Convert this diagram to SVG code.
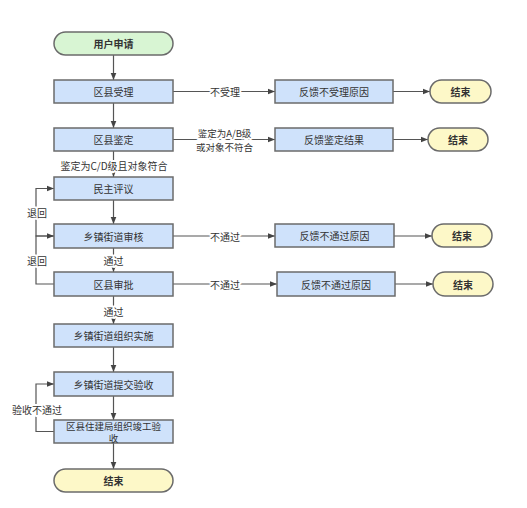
<svg xmlns="http://www.w3.org/2000/svg" width="527" height="508" viewBox="0 0 527 508">
<defs>
<marker id="arr" viewBox="0 0 10 10" refX="10" refY="5" markerWidth="7" markerHeight="7" markerUnits="userSpaceOnUse" orient="auto">
<path d="M0,1 L10,5 L0,9 z" fill="#444"/>
</marker>
<style>
.box{fill:#cfe2fb;stroke:#6b6b6b;stroke-width:1.5}
.start{fill:#d8f5d3;stroke:#6b6b6b;stroke-width:1.5}
.end{fill:#fdf8c8;stroke:#6b6b6b;stroke-width:1.5}
text{font-family:"Noto Sans CJK SC","Liberation Sans",sans-serif;font-size:10px;fill:#333;text-anchor:middle;dominant-baseline:central}
.b{font-weight:bold}
.sm{font-size:9.5px}
.lbl{stroke:#fff;stroke-width:4px;paint-order:stroke;stroke-linejoin:round}
.c{fill:none;stroke:#555;stroke-width:1.2}
</style>
</defs>
<rect width="527" height="508" fill="#fff"/>
<g id="connectors">
<path class="c" d="M113.5,55 V80" marker-end="url(#arr)"/>
<path class="c" d="M113.5,103 V128" marker-end="url(#arr)"/>
<path class="c" d="M113.5,151 V177" marker-end="url(#arr)"/>
<path class="c" d="M113.5,200 V224" marker-end="url(#arr)"/>
<path class="c" d="M113.5,248 V272" marker-end="url(#arr)"/>
<path class="c" d="M113.5,296 V324" marker-end="url(#arr)"/>
<path class="c" d="M113.5,347 V372" marker-end="url(#arr)"/>
<path class="c" d="M113.5,396 V420" marker-end="url(#arr)"/>
<path class="c" d="M113.5,443 V469" marker-end="url(#arr)"/>
<path class="c" d="M173,91.5 H275" marker-end="url(#arr)"/>
<path class="c" d="M393,91.5 H430" marker-end="url(#arr)"/>
<path class="c" d="M173,139.5 H275" marker-end="url(#arr)"/>
<path class="c" d="M393,139.5 H428" marker-end="url(#arr)"/>
<path class="c" d="M173,236 H275" marker-end="url(#arr)"/>
<path class="c" d="M394,236 H432" marker-end="url(#arr)"/>
<path class="c" d="M173,284 H277" marker-end="url(#arr)"/>
<path class="c" d="M395,284 H433" marker-end="url(#arr)"/>
<path class="c" d="M54,236 H36 V188.5 H54" marker-end="url(#arr)"/>
<path class="c" d="M54,284 H36 V236 H54" marker-end="url(#arr)"/>
<path class="c" d="M54,431.5 H36 V384 H54" marker-end="url(#arr)"/>
<text class="lbl" x="225" y="91.5">不受理</text>
<text class="lbl sm" x="224.5" y="133">鉴定为A/B级</text>
<text class="lbl sm" x="224.5" y="146.5">或对象不符合</text>
<text class="lbl" x="114" y="165.5">鉴定为C/D级且对象符合</text>
<text class="lbl" x="225" y="236">不通过</text>
<text class="lbl" x="225" y="284">不通过</text>
<text class="lbl" x="113.5" y="260">通过</text>
<text class="lbl" x="113.5" y="311">通过</text>
<text class="lbl" x="37" y="212.5">退回</text>
<text class="lbl" x="37" y="260">退回</text>
<text class="lbl" x="37" y="409">验收不通过</text>
</g>
<g id="n_start"><rect class="start" x="54" y="32" width="119" height="23" rx="11.5"/><text class="b" x="113.5" y="43.5">用户申请</text></g>
<g id="n_accept"><rect class="box" x="54" y="80" width="119" height="23"/><text x="113.5" y="91.5">区县受理</text></g>
<g id="n_identify"><rect class="box" x="54" y="128" width="119" height="23"/><text x="113.5" y="139.5">区县鉴定</text></g>
<g id="n_review"><rect class="box" x="54" y="177" width="119" height="23"/><text x="113.5" y="188.5">民主评议</text></g>
<g id="n_town"><rect class="box" x="54" y="224" width="119" height="24"/><text x="113.5" y="236">乡镇街道审核</text></g>
<g id="n_approve"><rect class="box" x="54" y="272" width="119" height="24"/><text x="113.5" y="284">区县审批</text></g>
<g id="n_impl"><rect class="box" x="54" y="324" width="119" height="23"/><text x="113.5" y="335.5">乡镇街道组织实施</text></g>
<g id="n_submit"><rect class="box" x="54" y="372" width="119" height="24"/><text x="113.5" y="384">乡镇街道提交验收</text></g>
<g id="n_final"><rect class="box" x="54" y="420" width="119" height="23"/><text class="sm" x="113.5" y="425.5">区县住建局组织竣工验</text><text class="sm" x="113.5" y="438">收</text></g>
<g id="n_end_main"><rect class="end" x="54" y="469" width="119" height="23" rx="11.5"/><text class="b" x="113.5" y="480.5">结束</text></g>
<g id="n_fb1"><rect class="box" x="275" y="80" width="118" height="23"/><text x="334" y="91.5">反馈不受理原因</text></g>
<g id="n_end1"><rect class="end" x="430" y="80" width="61" height="23" rx="11.5"/><text class="b" x="460.5" y="91.5">结束</text></g>
<g id="n_fb2"><rect class="box" x="275" y="128" width="118" height="23"/><text x="334" y="139.5">反馈鉴定结果</text></g>
<g id="n_end2"><rect class="end" x="428" y="128" width="60" height="23" rx="11.5"/><text class="b" x="458" y="139.5">结束</text></g>
<g id="n_fb3"><rect class="box" x="275" y="224" width="119" height="23"/><text x="334.5" y="235.5">反馈不通过原因</text></g>
<g id="n_end3"><rect class="end" x="432" y="224" width="60" height="23" rx="11.5"/><text class="b" x="462" y="235.5">结束</text></g>
<g id="n_fb4"><rect class="box" x="277" y="272" width="118" height="24"/><text x="336" y="284">反馈不通过原因</text></g>
<g id="n_end4"><rect class="end" x="433" y="272" width="60" height="24" rx="12"/><text class="b" x="463" y="284">结束</text></g>
</svg>
